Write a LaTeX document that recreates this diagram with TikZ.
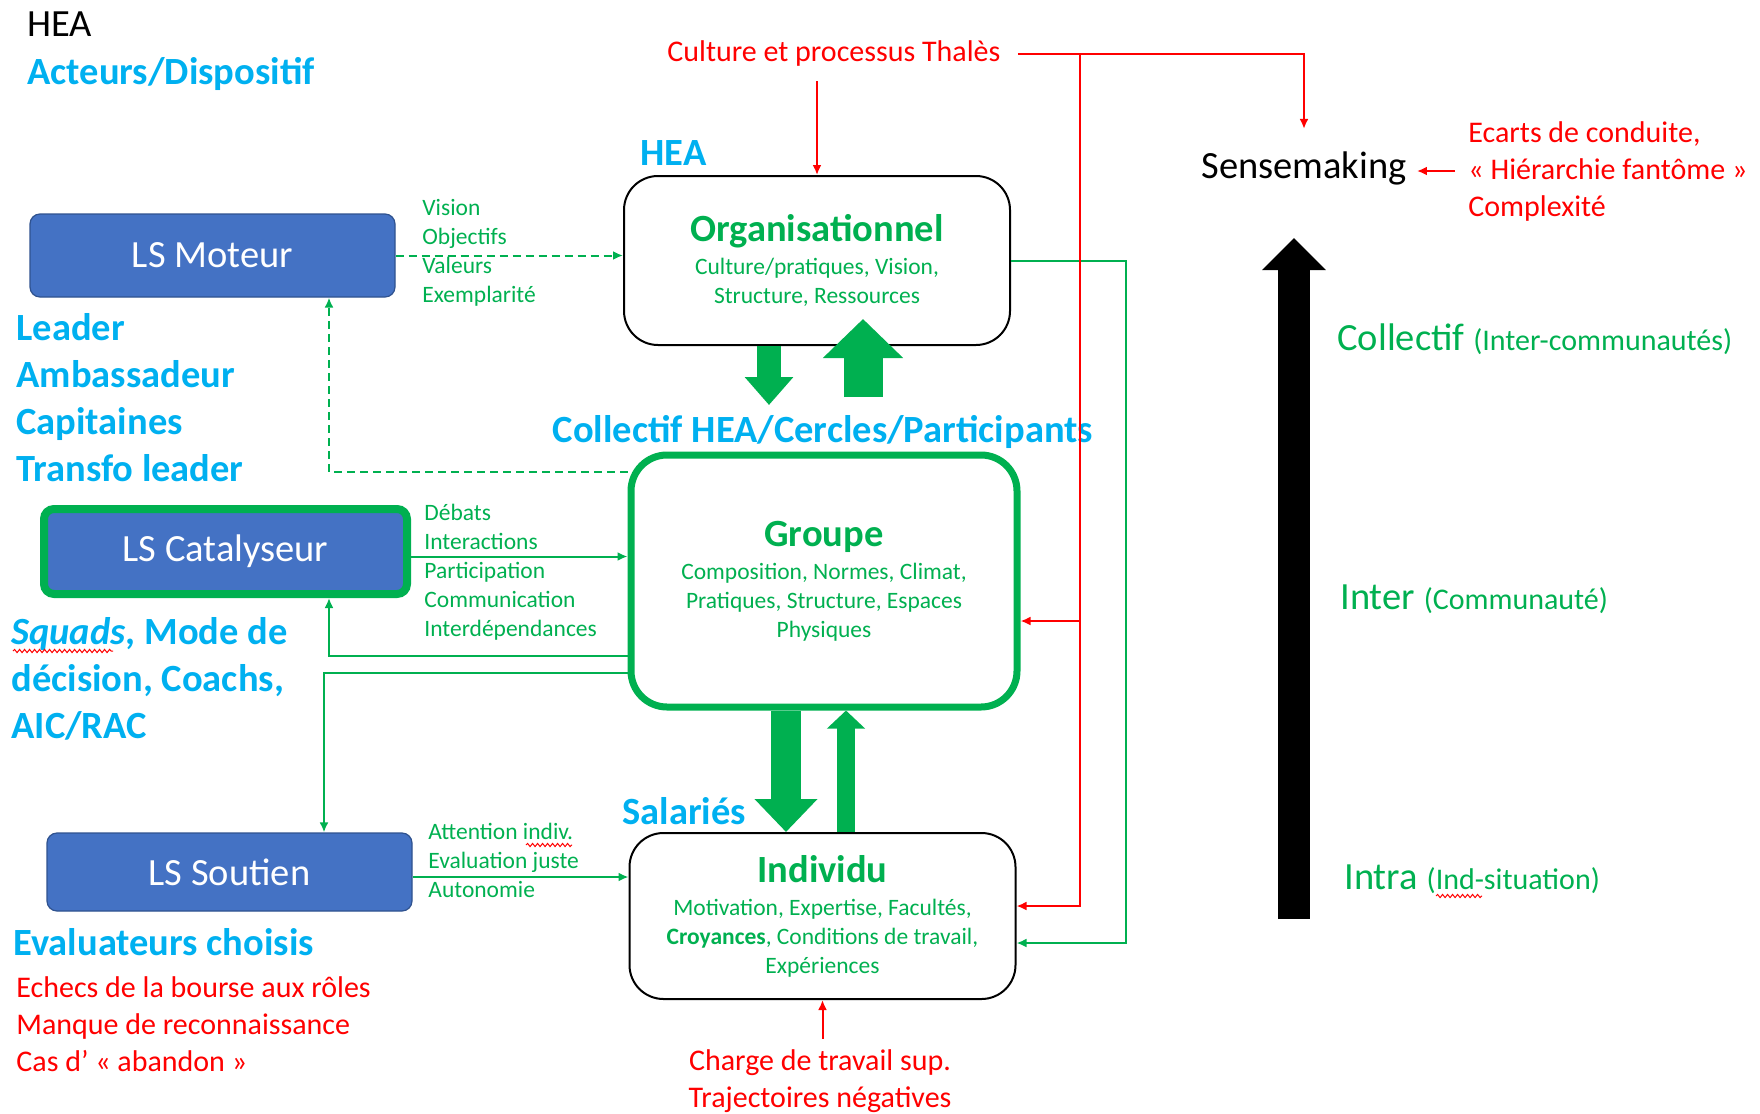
\documentclass[tikz,border=0pt]{standalone}
\usepackage{fontspec}
\setmainfont{Carlito}
\usetikzlibrary{arrows.meta,calc,positioning,decorations.pathmorphing}

\definecolor{heablue}{HTML}{00B0F0}
\definecolor{heagreen}{HTML}{00B050}
\definecolor{heared}{HTML}{FF0000}
\definecolor{lsblue}{HTML}{4472C4}
\definecolor{lsedge}{HTML}{2F528F}

\newcommand\bigfs{\fontsize{19.25}{23.5}\selectfont}
\newcommand\midfs{\fontsize{15}{18.5}\selectfont}
\newcommand\smallfs{\fontsize{11.75}{14.5}\selectfont}

\tikzset{
  lsbox/.style={rectangle, rounded corners=5pt, fill=lsblue, draw=lsedge, line width=0.6pt,
    text=white, font=\bigfs, minimum width=182.5pt},
  levelbox/.style={rectangle, rounded corners=17pt, draw=black, line width=1pt, fill=white,
    text=heagreen, align=center, font=\smallfs, minimum width=193pt},
  txt/.style={inner sep=0pt, anchor=base west, align=left},
  gline/.style={heagreen, line width=1pt},
  garrow/.style={gline, -{Latex[length=5pt,width=4.5pt]}},
  rarrow/.style={heared, line width=1pt, -{Latex[length=5pt,width=4.5pt]}},
  spellwave/.style={heared, line width=0.5pt, decorate, decoration={snake, amplitude=0.8pt, segment length=2.5pt}},
}

\begin{document}
\begin{tikzpicture}[x=0.5pt, y=-0.5pt]
  \useasboundingbox (0,0) rectangle (1760,1113);
  % leadership boxes
  \node[lsbox, minimum height=41.5pt] (moteur) at (212.5,255.5) {LS Moteur};
  \node[lsbox, draw=heagreen, line width=4pt, minimum width=181.5pt, minimum height=42.5pt] (catalyseur) at (225.5,551.5) {LS Catalyseur};
  \node[lsbox, minimum height=39pt] (soutien) at (229.5,872) {LS Soutien};
  % levels
  \node[levelbox, minimum height=84.5pt] (orga) at (817,260.5)
    {{\bigfs\bfseries Organisationnel}\\[2pt] Culture/pratiques, Vision,\\ Structure, Ressources};
  \node[levelbox, draw=heagreen, line width=3.5pt, rounded corners=18pt, minimum height=126pt] (groupe) at (824,581)
    {{\bigfs\bfseries Groupe}\\[2pt] Composition, Normes, Climat,\\ Pratiques, Structure, Espaces\\ Physiques};
  \node[levelbox, minimum height=83pt] (individu) at (822.5,916)
    {{\bigfs\bfseries Individu}\\[2pt] Motivation, Expertise, Facultés,\\ \textbf{Croyances}, Conditions de travail,\\ Expériences};

  % actors (multi-line texts sit on their last baseline)
  \node[txt, font=\bigfs] (hea) at (27,37) {HEA};
  \node[txt, font=\bigfs\bfseries, text=heablue] (acteurs) at (27,85) {Acteurs/Dispositif};
  \node[txt, font=\bigfs\bfseries, text=heablue] (roles) at (16,481) {Leader\\Ambassadeur\\Capitaines\\Transfo leader};
  \node[txt, font=\bigfs\bfseries, text=heablue] (squads) at (11,738) {\textit{Squads}, Mode de\\décision, Coachs,\\AIC/RAC};
  \node[txt, font=\bigfs\bfseries, text=heablue] (evaluateurs) at (13,955) {Evaluateurs choisis};
  \node[txt, font=\midfs, text=heared] (echecs) at (16,1071) {Echecs de la bourse aux rôles\\Manque de reconnaissance\\Cas d’ « abandon »};
  \node[txt, font=\bigfs\bfseries, text=heablue] (hea2) at (640,165) {HEA};
  \node[txt, anchor=base, font=\bigfs\bfseries, text=heablue] (collectif) at (823,442) {Collectif HEA/Cercles/Participants};
  \node[txt, font=\bigfs\bfseries, text=heablue] (salaries) at (622,824) {Salariés};

  % green flow labels
  \node[txt, font=\smallfs, text=heagreen] (vision) at (422,302) {Vision\\Objectifs\\Valeurs\\Exemplarité};
  \node[txt, font=\smallfs, text=heagreen] (debats) at (424,636) {Débats\\Interactions\\Participation\\Communication\\Interdépendances};
  \node[txt, font=\smallfs, text=heagreen] (attention) at (428,897) {Attention indiv.\\Evaluation juste\\Autonomie};

  % red context
  \node[txt, font=\midfs, text=heared] (culture) at (667,62) {Culture et processus Thalès};
  \node[txt, anchor=base, align=center, inner sep=5pt, font=\midfs, text=heared] (charge) at (820,1107) {Charge de travail sup.\\Trajectoires négatives};
  \node[txt, font=\bigfs] (sense) at (1201,178) {Sensemaking};
  \node[txt, font=\midfs, text=heared] (ecarts) at (1468,216) {Ecarts de conduite,\\« Hiérarchie fantôme »\\Complexité};

  % levels of analysis
  \node[txt, font=\bigfs, text=heagreen] (lcollectif) at (1337,350) {Collectif {\midfs(Inter-communautés)}};
  \node[txt, font=\bigfs, text=heagreen] (linter) at (1340,609) {Inter {\midfs(Communauté)}};
  \node[txt, font=\bigfs, text=heagreen] (lintra) at (1344,889) {Intra {\midfs(Ind-situation)}};

  % spell-check waves
  \draw[spellwave] ($(squads.base west)+(2,-87)$) -- ++(100,0);
  \draw[spellwave] ($(attention.base west)+(98,-52)$) -- ++(46,0);
  \draw[spellwave] ($(lintra.base west)+(92,7)$) -- ++(46,0);

  % thin green connectors
  \draw[garrow, dash pattern=on 4pt off 2.5pt] (moteur.east) -- (moteur.east -| orga.west);
  \draw[garrow, dash pattern=on 4pt off 2.5pt] ($(groupe.west)+(0,-109)$) -| ($(moteur.south)+(116.5,0)$);
  \coordinate (catout) at ([yshift=-2.5pt]catalyseur.east);
  \draw[garrow] (catout) -- (catout -| groupe.west);
  \draw[garrow] ($(groupe.west)+(0,75)$) -| ($(catalyseur.south)+(103.5,0)$);
  \draw[garrow] ($(groupe.west)+(0,92)$) -| ($(soutien.north)+(94.5,0)$);
  \coordinate (soutout) at ([yshift=-2.5pt]soutien.east);
  \draw[garrow] (soutout) -- (soutout -| individu.west);
  \coordinate (oin) at ($(individu.east)+(0,27)$);
  \draw[garrow] (orga.east) -- ++(115,0) |- (oin);

  % red connectors
  \draw[rarrow, shorten <=8.5pt, shorten >=11pt] (culture.east) -| (sense.north);
  \coordinate (rx) at (1080,0);
  \coordinate (rsplit) at (culture.east -| rx);
  \coordinate (gin) at ($(groupe.east)+(0,40)$);
  \coordinate (iin) at ($(individu.east)+(0,-10)$);
  \draw[rarrow] (rsplit) |- (iin);
  \draw[rarrow] (rsplit |- gin) -- (gin);
  \draw[rarrow, shorten <=7pt] (culture.south -| orga.north) -- (orga.north);
  \draw[rarrow, shorten <=6.5pt, shorten >=5pt] (ecarts.west) -- (ecarts.west -| sense.east);
  \draw[rarrow] (individu.south |- charge.north) -- (individu.south);

  % thick level arrows
  \coordinate (odn) at ($(orga.south)+(-48,0)$);
  \draw[heagreen, line width=12pt, -{Triangle[length=14pt,width=23.5pt]}] (odn) -- ++(0,59);
  \coordinate (gup) at ($(orga.south)+(46,51)$);
  \draw[heagreen, line width=19.5pt, -{Triangle[length=19.5pt,width=39pt]}] (gup) -- ++(0,-78);
  \coordinate (gdn) at ($(groupe.south)+(-38,0)$);
  \draw[heagreen, line width=15pt, -{Triangle[length=16.5pt,width=30.5pt]}] (gdn) -- (gdn |- individu.north);
  \coordinate (iup) at ($(individu.north)+(23.5,0)$);
  \draw[heagreen, line width=9pt, -{Triangle[length=9pt,width=18.5pt]}] (iup) -- (iup |- groupe.south);
  \coordinate (lvlbot) at (1294,919);
  \coordinate (lvltop) at (1294,238);
  \draw[line width=16pt, -{Triangle[length=16pt,width=31pt]}] (lvlbot) -- (lvltop);
\end{tikzpicture}
\end{document}
